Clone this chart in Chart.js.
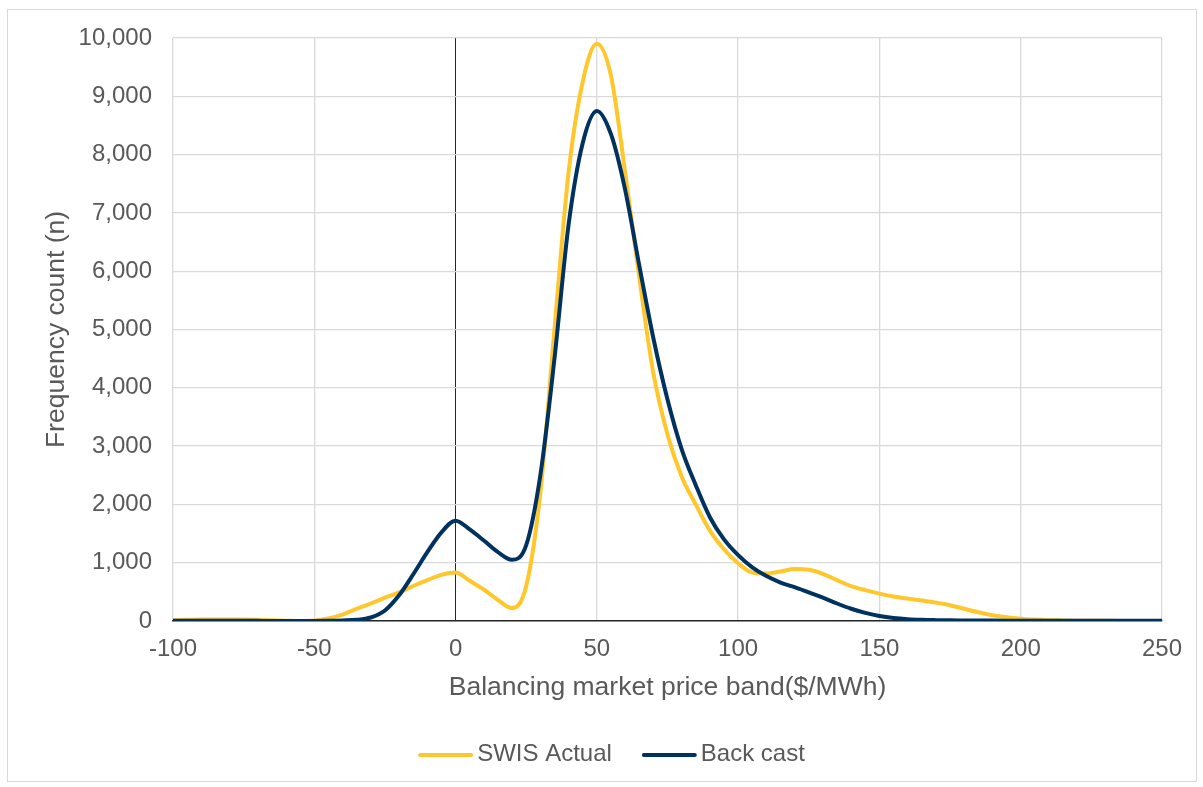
<!DOCTYPE html>
<html>
<head>
<meta charset="utf-8">
<title>Balancing market price distribution</title>
<script src="https://cdn.jsdelivr.net/npm/chart.js@4/dist/chart.umd.min.js"></script>
<style>
  html, body { margin: 0; padding: 0; background: #ffffff; }
  #wrap { position: relative; width: 1203px; height: 787px; }
</style>
</head>
<body>
<div id="wrap"><canvas id="chart"></canvas></div>
<script>
// Price bands ($/MWh) and frequency counts for each series
const priceBand = [
  -100, -95, -90, -85, -80, -75, -70, -65, -60, -55,
  -50, -45, -40, -35, -30, -25, -20, -15, -10, -5,
  0, 5, 10, 15, 20, 25, 30, 35, 40, 45,
  50, 55, 60, 65, 70, 75, 80, 85, 90, 95,
  100, 105, 110, 115, 120, 125, 130, 135, 140, 145,
  150, 155, 160, 165, 170, 175, 180, 185, 190, 195,
  200, 205, 210, 215, 220, 225, 230, 235, 240, 245,
  250
];

const swisActual = [
  15, 20, 25, 25, 25, 25, 20, 12, 5, 0,
  8, 45, 110, 210, 300, 400, 490, 600, 700, 790,
  830, 690, 540, 360, 220, 600, 2200, 5000, 7700, 9250,
  9900, 9350, 7700, 5900, 4250, 3200, 2480, 2000, 1550, 1230,
  990, 830, 815, 850, 890, 880, 810, 700, 600, 530,
  470, 420, 385, 350, 315, 270, 210, 150, 100, 65,
  40, 25, 15, 10, 6, 4, 3, 2, 2, 1,
  1
];

const backCast = [
  5, 5, 5, 5, 5, 5, 3, 0, 0, 0,
  2, 5, 10, 20, 60, 180, 440, 800, 1180, 1520,
  1720, 1570, 1380, 1180, 1050, 1300, 2500, 4500, 6800, 8200,
  8750, 8350, 7400, 6100, 4850, 3800, 2950, 2330, 1780, 1400,
  1130, 920, 770, 660, 580, 490, 400, 300, 210, 140,
  85, 50, 30, 20, 15, 12, 10, 8, 7, 6,
  5, 5, 4, 4, 3, 3, 3, 3, 3, 3,
  3
];

const xTicks = { min: -100, max: 250, step: 50 };
const yTicks = { min: 0, max: 10000, step: 1000 };

const FONT = '"Liberation Sans", Arial, sans-serif';
const TEXT = '#595959';
const GRID = '#d9d9d9';
const AXIS = '#262626';

const toPoints = (ys) => priceBand.map((x, i) => ({ x, y: ys[i] }));

// Light grey frame round the whole chart
const framePlugin = {
  id: 'frame',
  beforeDraw(chart) {
    const c = chart.ctx;
    c.save();
    c.fillStyle = '#ffffff';
    c.fillRect(0, 0, chart.width, chart.height);
    c.strokeStyle = '#d9d9d9';
    c.lineWidth = 1;
    c.strokeRect(7.5, 9.5, 1189, 772);
    c.restore();
  }
};

// Legend row under the axis title: a short line sample followed by the series name
const lineLegendPlugin = {
  id: 'lineLegend',
  afterDraw(chart, args, opts) {
    const c = chart.ctx;
    const sets = chart.data.datasets;
    c.save();
    c.font = `${opts.fontSize}px ${FONT}`;
    c.textBaseline = 'middle';
    c.textAlign = 'left';
    const widths = sets.map((d) => opts.sample + opts.gap + c.measureText(d.label).width);
    const total = widths.reduce((a, b) => a + b, 0) + opts.spacing * (sets.length - 1);
    let x = opts.centerX - total / 2;
    sets.forEach((d, i) => {
      c.strokeStyle = d.borderColor;
      c.lineWidth = d.borderWidth;
      c.lineCap = 'round';
      c.beginPath();
      c.moveTo(x + 1, opts.y + 1);
      c.lineTo(x + opts.sample - 1, opts.y + 1);
      c.stroke();
      c.fillStyle = TEXT;
      c.fillText(d.label, x + opts.sample + opts.gap, opts.y);
      x += widths[i] + opts.spacing;
    });
    c.restore();
  }
};

new Chart(document.getElementById('chart'), {
  type: 'line',
  data: {
    datasets: [
      {
        label: 'SWIS Actual',
        data: toPoints(swisActual),
        borderColor: '#FFC72C',
        backgroundColor: '#FFC72C',
        borderWidth: 4,
        pointRadius: 0,
        fill: false,
        cubicInterpolationMode: 'monotone',
        order: 2
      },
      {
        label: 'Back cast',
        data: toPoints(backCast),
        borderColor: '#00325F',
        backgroundColor: '#00325F',
        borderWidth: 4,
        pointRadius: 0,
        fill: false,
        cubicInterpolationMode: 'monotone',
        order: 1
      }
    ]
  },
  options: {
    responsive: true,
    maintainAspectRatio: false,
    animation: false,
    devicePixelRatio: 1,
    layout: { padding: { left: 8, top: 38, right: 41, bottom: 54 } },
    plugins: {
      tooltip: { enabled: false },
      legend: { display: false },
      lineLegend: { fontSize: 24, sample: 53, gap: 5, spacing: 31, centerX: 612, y: 754 }
    },
    scales: {
      x: {
        type: 'linear',
        min: xTicks.min,
        max: xTicks.max,
        afterFit(scale) { scale.height = 112; },
        ticks: {
          stepSize: xTicks.step,
          padding: 14,
          color: TEXT,
          font: { family: FONT, size: 24 },
          maxRotation: 0
        },
        grid: {
          drawTicks: false,
          color: (ctx) => (ctx.tick && ctx.tick.value === 0 ? AXIS : GRID),
          lineWidth: (ctx) => (ctx.tick && ctx.tick.value === 0 ? 1 : 1.3)
        },
        border: { display: true, color: AXIS, width: 1.5 },
        title: {
          display: true,
          text: 'Balancing market price band($/MWh)',
          color: TEXT,
          font: { family: FONT, size: 26.5 },
          padding: { top: 0, bottom: 29 }
        }
      },
      y: {
        type: 'linear',
        min: yTicks.min,
        max: yTicks.max,
        afterFit(scale) { scale.width = 165; },
        ticks: {
          stepSize: yTicks.step,
          padding: 21,
          color: TEXT,
          font: { family: FONT, size: 24 },
          callback: (v) => Number(v).toLocaleString('en-US')
        },
        grid: {
          drawTicks: false,
          color: GRID,
          lineWidth: 1.3
        },
        border: { display: false },
        title: {
          display: true,
          text: 'Frequency count (n)',
          color: TEXT,
          font: { family: FONT, size: 26.5 },
          padding: { top: 33, bottom: 0 }
        }
      }
    }
  },
  plugins: [framePlugin, lineLegendPlugin]
});
</script>
</body>
</html>
